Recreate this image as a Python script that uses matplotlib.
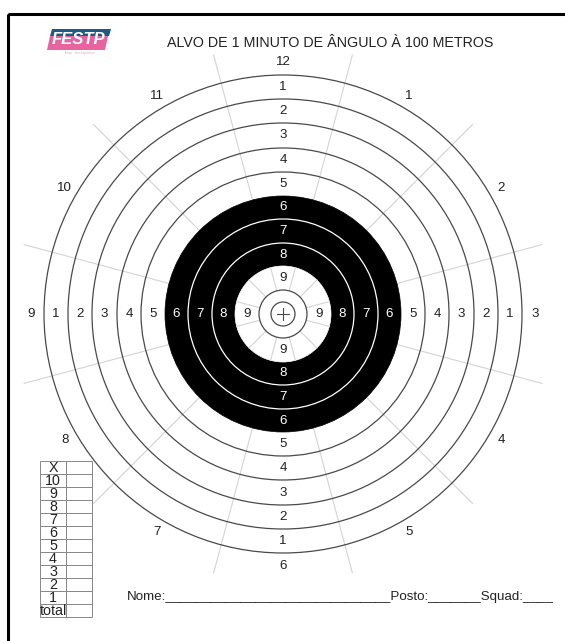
import numpy as np
import matplotlib
matplotlib.use("Agg")
import matplotlib.pyplot as plt
from matplotlib.patches import Circle, Rectangle, Polygon

plt.rcParams['font.family'] = ['Liberation Sans', 'DejaVu Sans']

# ---- data ----
title = "ALVO DE 1 MINUTO DE ÂNGULO À 100 METROS"
ring_scores = [1, 2, 3, 4, 5, 6, 7, 8, 9]
ring_outer_r = [239, 215, 191, 166, 142, 118, 95, 71, 48]
ten_r = 24
x_r = 12
clock_labels = ["12", "1", "2", "3", "4", "5", "6", "7", "8", "9", "10", "11"]
table_rows = ["X", "10", "9", "8", "7", "6", "5", "4", "3", "2", "1", "total"]
footer = "Nome:______________________________Posto:_______Squad:____"

W, H = 565, 641
cx, cy = 283, 314

fig = plt.figure(figsize=(W / 100, H / 100), dpi=100)
ax = fig.add_axes([0, 0, 1, 1])
ax.set_xlim(0, W)
ax.set_ylim(H, 0)
ax.set_aspect('equal')
ax.axis('off')

# border
ax.add_patch(Rectangle((8, 14), 600, 700, fill=False, ec='black', lw=2.2, zorder=1))

ring_col = '#4a4a4a'
spoke_col = '#d4d4d4'

# radial spokes (outer part)
for k in range(12):
    a = np.deg2rad(15 + 30 * k)
    r0, r1 = 118, 268
    ax.plot([cx + r0 * np.cos(a), cx + r1 * np.cos(a)],
            [cy - r0 * np.sin(a), cy - r1 * np.sin(a)], color=spoke_col, lw=0.8, zorder=2)

# outer rings (white)
for s, r in zip(ring_scores, ring_outer_r):
    if s <= 5:
        ax.add_patch(Circle((cx, cy), r, fill=False, ec=ring_col, lw=0.9, zorder=3))

# black disk
ax.add_patch(Circle((cx, cy), ring_outer_r[5], fc='black', ec='black', lw=0.5, zorder=4))
for s, r in zip(ring_scores, ring_outer_r):
    if s in (7, 8):
        ax.add_patch(Circle((cx, cy), r, fill=False, ec='white', lw=0.9, zorder=5))

# white 9 disk
ax.add_patch(Circle((cx, cy), ring_outer_r[8], fc='white', ec='white', lw=0.5, zorder=6))
for k in range(12):
    a = np.deg2rad(15 + 30 * k)
    r0, r1 = ten_r, ring_outer_r[8]
    ax.plot([cx + r0 * np.cos(a), cx + r1 * np.cos(a)],
            [cy - r0 * np.sin(a), cy - r1 * np.sin(a)], color=spoke_col, lw=0.8, zorder=7)
ax.add_patch(Circle((cx, cy), ten_r, fill=False, ec=ring_col, lw=0.9, zorder=8))
ax.add_patch(Circle((cx, cy), x_r, fill=False, ec=ring_col, lw=0.9, zorder=8))
ax.plot([cx - 6, cx + 6], [cy, cy], color=ring_col, lw=0.8, zorder=8)
ax.plot([cx, cx], [cy - 6, cy + 6], color=ring_col, lw=0.8, zorder=8)

# ring score labels
num_fs = 9.6
inner_bounds = ring_outer_r[1:] + [ten_r]
for s, ro, ri in zip(ring_scores, ring_outer_r, inner_bounds):
    rm = (ro + ri) / 2
    col = 'white' if s in (6, 7, 8) else '#222222'
    for dx, dy in [(0, -1), (0, 1), (-1, 0), (1, 0)]:
        ax.text(cx + dx * rm, cy + dy * rm, str(s), ha='center', va='center',
                fontsize=num_fs, color=col, zorder=9)

# clock labels
rc = 252
for i, lab in enumerate(clock_labels):
    a = np.deg2rad(90 - 30 * i)
    ax.text(cx + rc * np.cos(a), cy - rc * np.sin(a), lab, ha='center', va='center',
            fontsize=num_fs, color='#222222', zorder=9)

# title
ax.text(330, 43, title, ha='center', va='center', fontsize=10.3, color='#222222')

# logo
ax.add_patch(Polygon([[52, 29], [111, 29], [109, 36], [50, 36]], closed=True,
                     fc='#1f5a85', ec='none', zorder=3))
ax.add_patch(Polygon([[50, 36], [108, 36], [105, 50], [47, 50]], closed=True,
                     fc='#e8649f', ec='none', zorder=3))
ax.text(79, 40, "FESTP", ha='center', va='center', fontsize=12, fontweight='bold',
        fontstyle='italic', color='white', zorder=4)
ax.text(79, 53, "festp · tiro esportivo", ha='center', va='center', fontsize=2.5,
        color='#e8a0c0', zorder=4)

# score table
tx0, tx1, tx2 = 40, 66, 92
ty0 = 460.5
rh = (617 - 460.5) / len(table_rows)
for i, lab in enumerate(table_rows):
    y = ty0 + i * rh
    ax.add_patch(Rectangle((tx0, y), tx1 - tx0, rh, fill=False, ec='#888888', lw=0.7, zorder=3))
    ax.add_patch(Rectangle((tx1, y), tx2 - tx1, rh, fill=False, ec='#888888', lw=0.7, zorder=3))
    ax.text((tx0 + tx1) / 2, y + rh / 2 + 0.5, lab, ha='center', va='center',
            fontsize=10.3, color='#222222', zorder=4)

# footer
ax.text(127, 597, footer, ha='left', va='center', fontsize=9.6, color='#222222')

fig.savefig("out.png", dpi=100)
